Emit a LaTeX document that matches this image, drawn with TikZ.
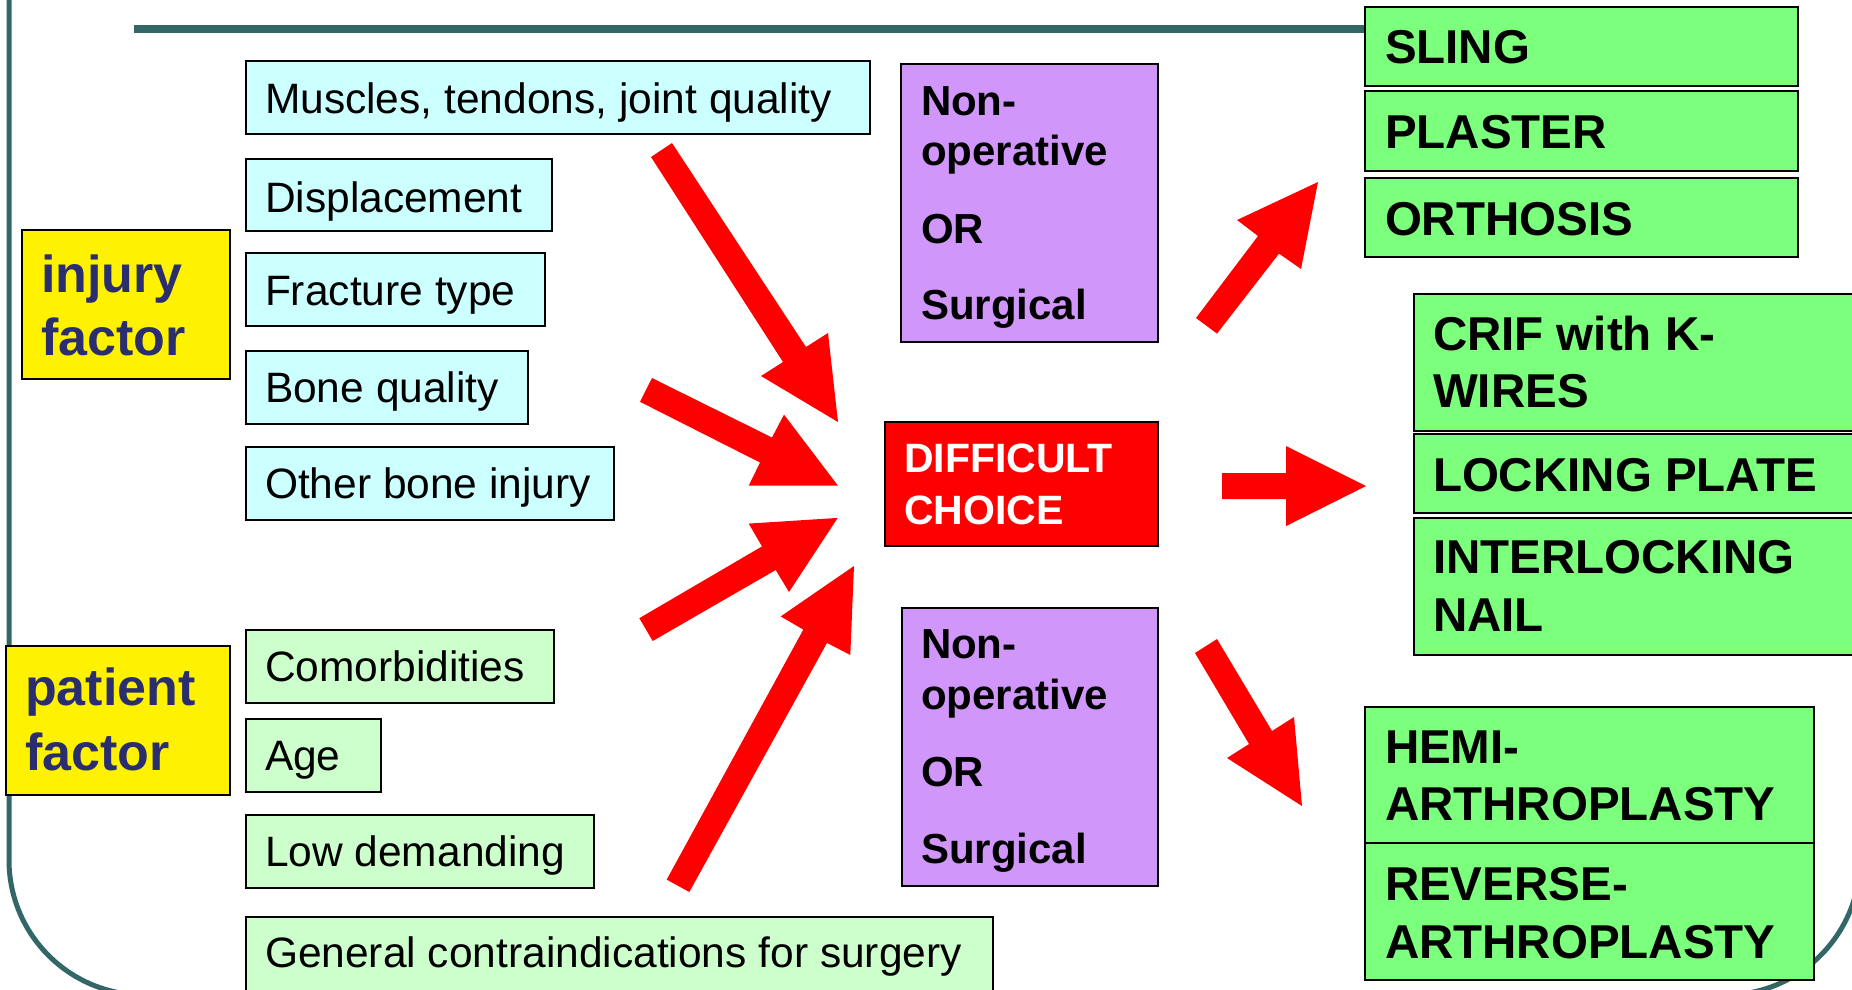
\documentclass[tikz,border=0pt]{standalone}
\usepackage{fontspec}
\setmainfont{Liberation Sans}
\definecolor{frameteal}{RGB}{51,102,102}
\definecolor{cyanbox}{RGB}{204,255,255}
\definecolor{mintbox}{RGB}{204,255,204}
\definecolor{purplebox}{RGB}{208,150,250}
\definecolor{greenbox}{RGB}{124,255,124}
\definecolor{navytxt}{RGB}{42,46,110}
\newcommand{\mybox}[6]{\node[box,fill=#6,minimum width={(#4)-(#2)},minimum height={(#5)-(#3)}] (#1) at (#2,#3) {};}
\begin{document}
\begin{tikzpicture}[x=1pt,y=-1pt,
  box/.style={draw=black,line width=2.5pt,inner sep=0pt,outer sep=0pt,anchor=north west},
  txt/.style={anchor=base west,inner sep=0pt,outer sep=0pt},
  lefttext/.style={txt,font=\fontsize{42.5}{50}\selectfont},
  factortext/.style={txt,font=\fontsize{52}{60}\selectfont\bfseries,text=navytxt},
  purpletext/.style={txt,font=\fontsize{42}{50}\selectfont\bfseries},
  greentext/.style={txt,font=\fontsize{47.5}{56}\selectfont\bfseries},
  choicetext/.style={txt,font=\fontsize{41}{50}\selectfont\bfseries,text=white},
  redarrow/.style={fill=red,draw=none},
  frameline/.style={draw=frameteal}]
\useasboundingbox (0,0) rectangle (1852,989);
\clip (0,0) rectangle (1852,989);
\fill[white] (0,0) rectangle (1852,989);
% frame
\draw[frameline,line width=5pt,rounded corners=135pt] (9,-30) -- (9,995) -- (1860,995) -- (1860,-30);
\draw[frameline,line width=8pt] (134,29) -- (1365,29);
% factor boxes
\mybox{inj}{22}{230}{230}{379}{yellow}
\mybox{pat}{6}{646}{230}{795}{yellow}
\node[factortext] (injA) at (41,292) {injury};
\node[factortext] (injB) at (41,355) {factor};
\node[factortext] (patA) at (25,705) {patient};
\node[factortext] (patB) at (25,770) {factor};
% injury boxes
\mybox{m1}{246}{61}{870}{134}{cyanbox}
\mybox{m2}{246}{159}{552}{231}{cyanbox}
\mybox{m3}{246}{253}{545}{326}{cyanbox}
\mybox{m4}{246}{351}{528}{424}{cyanbox}
\mybox{m5}{246}{447}{614}{520}{cyanbox}
\node[lefttext] (t1) at (265,113) {Muscles, tendons, joint quality};
\node[lefttext] (t2) at (265,212) {Displacement};
\node[lefttext] (t3) at (265,305) {Fracture type};
\node[lefttext] (t4) at (265,402.5) {Bone quality};
\node[lefttext] (t5) at (265,498.5) {Other bone injury};
% patient boxes
\mybox{c1}{246}{630}{554}{703}{mintbox}
\mybox{c2}{246}{719}{381}{792}{mintbox}
\mybox{c3}{246}{815}{594}{888}{mintbox}
\mybox{c4}{246}{917}{993}{991}{mintbox}
\node[lefttext] (s1) at (265,681) {Comorbidities};
\node[lefttext] (s2) at (265,770) {Age};
\node[lefttext] (s3) at (265,866.5) {Low demanding};
\node[lefttext] (s4) at (265,967) {General contraindications for surgery};
% purple boxes
\mybox{pu1}{901}{64}{1158}{342}{purplebox}
\node[purpletext] (pa1) at (921,115) {Non-};
\node[purpletext] (pa2) at (921,165.5) {operative};
\node[purpletext] (pa3) at (921,243) {OR};
\node[purpletext] (pa4) at (921,319.5) {Surgical};
\mybox{pu2}{902}{608}{1158}{886}{purplebox}
\node[purpletext] (pb1) at (921,658.5) {Non-};
\node[purpletext] (pb2) at (921,709) {operative};
\node[purpletext] (pb3) at (921,786.5) {OR};
\node[purpletext] (pb4) at (921,863) {Surgical};
% difficult choice
\mybox{dc}{885}{422}{1158}{546}{red}
\node[choicetext] (dc1) at (904,472.7) {DIFFICULT};
\node[choicetext] (dc2) at (904,524) {CHOICE};
% green boxes top
\mybox{g1}{1365}{7}{1798}{86}{greenbox}
\mybox{g2}{1365}{91}{1798}{171}{greenbox}
\mybox{g3}{1365}{178}{1798}{257}{greenbox}
\node[greentext] (gt1) at (1385,63) {SLING};
\node[greentext] (gt2) at (1385,148) {PLASTER};
\node[greentext] (gt3) at (1385,235) {ORTHOSIS};
% green boxes middle
\mybox{k1}{1414}{294}{1880}{431}{greenbox}
\mybox{k2}{1414}{434}{1880}{513}{greenbox}
\mybox{k3}{1414}{518}{1880}{655}{greenbox}
\node[greentext] (kt1) at (1433,350) {CRIF with K-};
\node[greentext] (kt2) at (1433,407) {WIRES};
\node[greentext] (kt3) at (1433,491) {LOCKING PLATE};
\node[greentext] (kt4) at (1433,573) {INTERLOCKING};
\node[greentext] (kt5) at (1433,631) {NAIL};
% green boxes bottom
\mybox{h1}{1365}{707}{1814}{843}{greenbox}
\mybox{h2}{1365}{843}{1814}{980}{greenbox}
\node[greentext] (ht1) at (1385,763) {HEMI-};
\node[greentext] (ht2) at (1385,820) {ARTHROPLASTY};
\node[greentext] (ht3) at (1385,900) {REVERSE-};
\node[greentext] (ht4) at (1385,958) {ARTHROPLASTY};
% block arrows
\fill[redarrow] (651,157) -- (783,362) -- (761,376) -- (838,422) -- (828,333) -- (806,347) -- (672,143) -- cycle;
\fill[redarrow] (652,378) -- (772,437.5) -- (784,414.6) -- (838,485.7) -- (748.7,485.7) -- (760,462.5) -- (640,401.8) -- cycle;
\fill[redarrow] (639.3,618.2) -- (762,546.4) -- (748.7,523.6) -- (837.7,517.9) -- (789,592) -- (775.7,570) -- (652.7,641) -- cycle;
\fill[redarrow] (666.7,879.6) -- (803.3,629.6) -- (780.7,616.4) -- (854,566) -- (850.3,655) -- (827,642.9) -- (689.3,892) -- cycle;
\fill[redarrow] (1196,318) -- (1258,236) -- (1237,220) -- (1318,182) -- (1301,269) -- (1279,253.6) -- (1217,333.6) -- cycle;
\fill[redarrow] (1222,473) -- (1286,473) -- (1286,446) -- (1366,486) -- (1286,526) -- (1286,499) -- (1222,499) -- cycle;
\fill[redarrow] (1195,653) -- (1249,744) -- (1227,758) -- (1302,806) -- (1294,717) -- (1272,731) -- (1217,639) -- cycle;
\end{tikzpicture}
\end{document}
